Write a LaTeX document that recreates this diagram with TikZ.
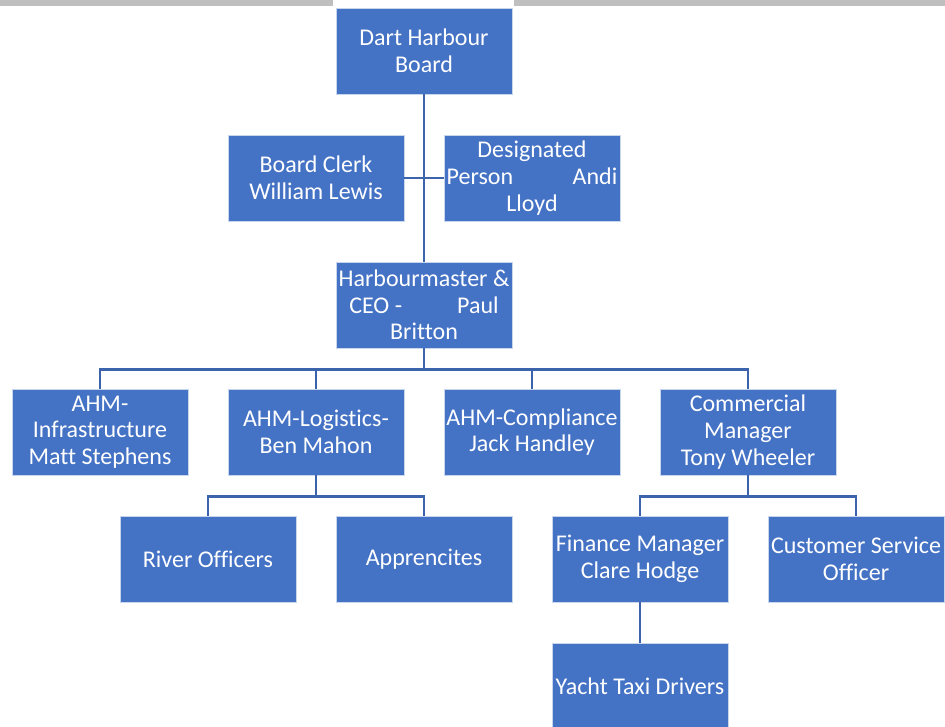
\documentclass[tikz,border=0pt]{standalone}
\usepackage{fontspec}
\setmainfont{Carlito}[Ligatures=NoCommon]
\usetikzlibrary{shapes,arrows}
\definecolor{boxblue}{HTML}{4472C4}
\definecolor{linkblue}{HTML}{3B64AD}
\definecolor{bargray}{HTML}{BFBFBF}
\tikzstyle{block} = [rectangle, draw=white!70!boxblue, line width=0.6pt, fill=boxblue, text=white, align=center, minimum width=132pt, minimum height=64.5pt, inner sep=1pt, font=\fontsize{18pt}{20pt}\selectfont]
\tikzstyle{connector} = [draw=linkblue, line width=2.2pt]

\begin{document}
\begin{tikzpicture}[node distance = 95.25pt]
    % Page and top bar
    \useasboundingbox (-318pt,38.25pt) rectangle (390.75pt,-506.25pt);
    \fill [bargray] (-318pt,38.25pt) rectangle (-68.25pt,33.5pt);
    \fill [bargray] (67.5pt,38.25pt) rectangle (390.75pt,33.5pt);

    % Place nodes
    \node [block] (board) {Dart Harbour\\Board};
    \node [block, below of=board, xshift=-81pt] (clerk) {Board Clerk\\William Lewis};
    \node [block, below of=board, xshift=81pt] (designated) {Designated\\\makebox[128pt]{Person\hfill Andi}\\Lloyd};
    \node [block, below of=clerk, xshift=81pt] (hm) {Harbourmaster \&\\\makebox[112pt]{CEO -\hfill Paul}\\Britton};
    \node [block, below of=hm, xshift=-243pt] (infra) {AHM-\\Infrastructure\\Matt Stephens};
    \node [block, below of=hm, xshift=-81pt] (logistics) {AHM-Logistics-\\Ben Mahon};
    \node [block, below of=hm, xshift=81pt] (compliance) {AHM-Compliance\\Jack Handley};
    \node [block, below of=hm, xshift=243pt] (commercial) {Commercial\\Manager\\Tony Wheeler};
    \node [block, below of=logistics, xshift=-81pt] (river) {River Officers};
    \node [block, below of=logistics, xshift=81pt] (apprentices) {Apprencites};
    \node [block, below of=commercial, xshift=-81pt] (finance) {Finance Manager\\Clare Hodge};
    \node [block, below of=commercial, xshift=81pt] (customer) {Customer Service\\Officer};
    \node [block, below of=finance] (yacht) {Yacht Taxi Drivers};

    % Draw connectors
    \draw [connector] (board) -- (hm);
    \draw [connector] (clerk) -- (designated);
    \path (hm.south) ++(0,-15.75pt) coordinate (hmbar);
    \path (logistics.south) ++(0,-15.75pt) coordinate (logbar);
    \path (commercial.south) ++(0,-15.75pt) coordinate (combar);
    \draw [connector] (hm) -- (hmbar);
    \foreach \n in {infra,logistics,compliance,commercial}
        \draw [connector] (hmbar) -| (\n);
    \draw [connector] (logistics) -- (logbar);
    \foreach \n in {river,apprentices}
        \draw [connector] (logbar) -| (\n);
    \draw [connector] (commercial) -- (combar);
    \foreach \n in {finance,customer}
        \draw [connector] (combar) -| (\n);
    \draw [connector] (finance) -- (yacht);
\end{tikzpicture}
\end{document}
